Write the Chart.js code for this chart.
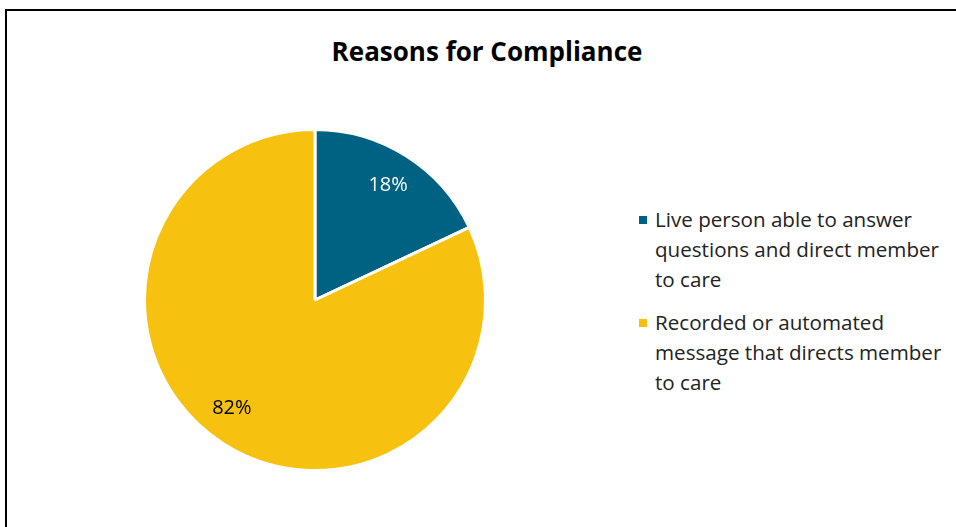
<!DOCTYPE html>
<html>
<head>
<meta charset="utf-8">
<script src="https://cdn.jsdelivr.net/npm/chart.js@4.4.0/dist/chart.umd.min.js"></script>
<style>
  html, body { margin: 0; padding: 0; background: #fff; overflow: hidden; }
  body { width: 956px; height: 527px; position: relative; font-family: "Open Sans", sans-serif; }
  #frame { position: absolute; left: 5px; top: 9px; width: 980px; height: 560px; border: 2px solid #000; box-sizing: border-box; }
  #titulo { position: absolute; left: 0; width: 974px; top: 33px; text-align: center; font-weight: bold; font-size: 26px; color: #000; }
  #pieBox { position: absolute; left: 143px; top: 128px; width: 344px; height: 344px; }
  #leyenda { position: absolute; left: 637px; top: 204px; width: 320px; font-size: 20.6px; line-height: 30px; color: #222; }
  .item { position: relative; padding-left: 18px; margin-bottom: 13px; }
  .cuadro { position: absolute; left: 2px; top: 12px; width: 8px; height: 8px; }
</style>
</head>
<body>
<div id="frame"></div>
<div id="titulo">Reasons for Compliance</div>
<div id="pieBox"><canvas id="myPieChart"></canvas></div>
<div id="leyenda"></div>
<script>
const categorias = [
  'Live person able to answer questions and direct member to care',
  'Recorded or automated message that directs member to care'
];
const porcentajes = [18, 82];
const colores = ['#006283', '#F6C20F'];
const coloresTexto = ['#ffffff', '#000000'];

// etiquetas de porcentaje dentro de cada porcion
const etiquetasPlugin = {
  id: 'etiquetas',
  afterDatasetsDraw(chart) {
    const ctx = chart.ctx;
    const meta = chart.getDatasetMeta(0);
    ctx.save();
    ctx.font = '20px "Open Sans", sans-serif';
    ctx.textAlign = 'center';
    ctx.textBaseline = 'middle';
    meta.data.forEach((arc, i) => {
      const p = arc.getProps(['x', 'y', 'startAngle', 'endAngle', 'outerRadius']);
      const ang = (p.startAngle + p.endAngle) / 2 + (i === 1 ? 0.09 : 0);
      const r = p.outerRadius * 0.8;
      ctx.fillStyle = coloresTexto[i];
      ctx.fillText(porcentajes[i] + '%', p.x + Math.cos(ang) * r, p.y + Math.sin(ang) * r);
    });
    ctx.restore();
  }
};

function armarLeyenda() {
  const cont = document.getElementById('leyenda');
  categorias.forEach((cat, i) => {
    const div = document.createElement('div');
    div.className = 'item';
    div.innerHTML = `<span class="cuadro" style="background:${colores[i]}"></span>${cat}`;
    cont.appendChild(div);
  });
}

function dibujarPie() {
  const ctx = document.getElementById('myPieChart').getContext('2d');
  new Chart(ctx, {
    type: 'pie',
    data: {
      labels: categorias,
      datasets: [{
        data: porcentajes,
        backgroundColor: colores,
        borderColor: '#ffffff',
        borderWidth: 3
      }]
    },
    options: {
      responsive: true,
      maintainAspectRatio: false,
      animation: false,
      layout: { padding: 0 },
      plugins: {
        legend: { display: false },
        tooltip: { enabled: false }
      }
    },
    plugins: [etiquetasPlugin]
  });
}

armarLeyenda();
dibujarPie();
</script>
</body>
</html>
